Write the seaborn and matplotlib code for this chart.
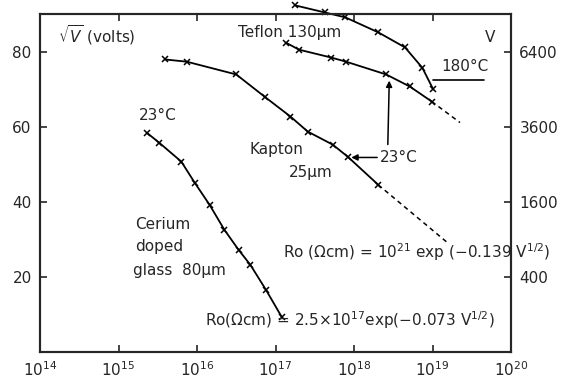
import matplotlib
matplotlib.use("Agg")
import matplotlib.pyplot as plt
import seaborn as sns
import numpy as np

# ---- data (log10 of Ro in ohm·cm, sqrt(V) in volts^1/2) ----
cerium_logR = [15.36, 15.52, 15.80, 15.97, 16.16, 16.35, 16.53, 16.68, 16.88, 17.08]
cerium_sqrtV = [58.4, 55.7, 50.7, 45.1, 39.2, 32.5, 27.2, 23.2, 16.5, 9.3]

kapton_logR = [15.59, 15.87, 16.50, 16.86, 17.19, 17.41, 17.73, 17.92, 18.31]
kapton_sqrtV = [77.9, 77.3, 73.9, 68.0, 62.7, 58.7, 55.2, 52.0, 44.5]
kapton_ext_logR = [18.31, 19.18]
kapton_ext_sqrtV = [44.5, 29.3]

teflon23_logR = [17.13, 17.30, 17.71, 17.90, 18.41, 18.71, 18.99]
teflon23_sqrtV = [82.4, 80.5, 78.4, 77.3, 73.9, 70.7, 66.7]
teflon23_ext_logR = [18.99, 19.35]
teflon23_ext_sqrtV = [66.7, 61.1]

teflon180_logR = [17.25, 17.63, 17.89, 18.31, 18.65, 18.87, 19.01]
teflon180_sqrtV = [92.3, 90.4, 89.1, 85.1, 81.1, 75.7, 69.9]

x_ticks = [1e14, 1e15, 1e16, 1e17, 1e18, 1e19, 1e20]
x_tick_labels = [r"10$^{14}$", r"10$^{15}$", r"10$^{16}$", r"10$^{17}$",
                 r"10$^{18}$", r"10$^{19}$", r"10$^{20}$"]
left_ticks = [20, 40, 60, 80]
right_tick_labels = ["400", "1600", "3600", "6400"]

# ---- figure ----
sns.set_style("ticks")
plt.rcParams["font.family"] = ["DejaVu Sans"]
plt.rcParams["mathtext.fontset"] = "dejavusans"

fig = plt.figure(figsize=(5.68, 3.85), dpi=100)
ax = fig.add_axes([40 / 568, 33 / 385, 471 / 568, 338 / 385])

def tolin(v):
    return [10 ** a for a in v]

lw = 1.3
mk = dict(marker="x", markersize=4.5, mew=1.1, mec="black", mfc="black")
sns.lineplot(x=tolin(cerium_logR), y=cerium_sqrtV, ax=ax, color="black", lw=lw,
             sort=False, **mk)
sns.lineplot(x=tolin(kapton_logR), y=kapton_sqrtV, ax=ax, color="black", lw=lw,
             sort=False, **mk)
sns.lineplot(x=tolin(kapton_ext_logR), y=kapton_ext_sqrtV, ax=ax, color="black",
             lw=1.1, linestyle=(0, (3, 2.5)), sort=False)
sns.lineplot(x=tolin(teflon23_logR), y=teflon23_sqrtV, ax=ax, color="black", lw=lw,
             sort=False, **mk)
sns.lineplot(x=tolin(teflon23_ext_logR), y=teflon23_ext_sqrtV, ax=ax, color="black",
             lw=1.1, linestyle=(0, (3, 2.5)), sort=False)
sns.lineplot(x=tolin(teflon180_logR), y=teflon180_sqrtV, ax=ax, color="black",
             lw=lw, sort=False, **mk)
for ln in ax.get_lines():
    ln.set_clip_on(False)

ax.set_xscale("log")
ax.set_xlim(1e14, 1e20)
ax.set_ylim(0, 90)
ax.set_xticks(x_ticks)
ax.set_xticklabels(x_tick_labels, fontsize=11)
ax.minorticks_off()
ax.set_yticks(left_ticks)
ax.set_yticklabels([str(t) for t in left_ticks], fontsize=11)
ax.tick_params(direction="in", length=5, width=1.2, top=True, pad=6)
for s in ax.spines.values():
    s.set_linewidth(1.5)

ax2 = ax.twinx()
ax2.set_ylim(0, 90)
ax2.set_yticks(left_ticks)
ax2.set_yticklabels(right_tick_labels, fontsize=11)
ax2.tick_params(direction="in", length=5, width=1.2, pad=6)
for s in ax2.spines.values():
    s.set_linewidth(1.5)

fs = 11
T = ax.transAxes
ax.text(0.038, 0.938, r"$\sqrt{V}$ (volts)", transform=T, fontsize=fs, ha="left", va="center")
ax.text(0.531, 0.944, "Teflon 130µm", transform=T, fontsize=fs, ha="center", va="center")
ax.text(0.902, 0.845, "180°C", transform=T, fontsize=fs, ha="center", va="center")
ax.text(0.955, 0.929, "V", transform=T, fontsize=fs, ha="center", va="center")
ax.text(0.251, 0.701, "23°C", transform=T, fontsize=fs, ha="center", va="center")
ax.text(0.501, 0.598, "Kapton", transform=T, fontsize=fs, ha="center", va="center")
ax.text(0.575, 0.530, "25µm", transform=T, fontsize=fs, ha="center", va="center")
ax.text(0.202, 0.376, "Cerium", transform=T, fontsize=fs, ha="left", va="center")
ax.text(0.202, 0.311, "doped", transform=T, fontsize=fs, ha="left", va="center")
ax.text(0.198, 0.240, "glass  80µm", transform=T, fontsize=fs, ha="left", va="center")
ax.text(0.722, 0.574, "23°C", transform=T, fontsize=fs, ha="left", va="center")
ax.text(0.516, 0.296, r"Ro ($\Omega$cm) = 10$^{21}$ exp ($-$0.139 V$^{1/2}$)",
        transform=T, fontsize=fs, ha="left", va="center", clip_on=False)
ax.text(0.350, 0.095, r"Ro($\Omega$cm) = 2.5$\times$10$^{17}$exp($-$0.073 V$^{1/2}$)",
        transform=T, fontsize=fs, ha="left", va="center")

# leader line under 180°C label
ax.plot([10 ** 19.0, 10 ** 19.65], [72.5, 72.5], color="black", lw=1.2, clip_on=False)
# arrows for 23°C
ax.annotate("", xy=(10 ** 18.45, 73.0), xytext=(10 ** 18.43, 54.5),
            arrowprops=dict(arrowstyle="-|>", color="black", lw=1.1, mutation_scale=9))
ax.annotate("", xy=(10 ** 17.93, 51.8), xytext=(10 ** 18.33, 51.8),
            arrowprops=dict(arrowstyle="-|>", color="black", lw=1.1, mutation_scale=9))

fig.savefig("out.png", dpi=100)
